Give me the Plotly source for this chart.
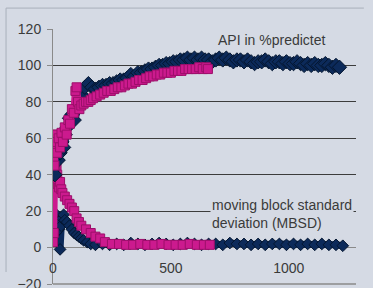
import plotly.graph_objects as go

# ---- data ----
api_navy_t = [0, 8, 15, 22, 30, 38, 45, 52, 60, 70, 80, 90, 100, 110, 120, 135, 150, 165, 180, 195,
              210, 225, 240, 255, 270, 285, 300, 315, 330, 345, 360, 375, 390, 405, 420, 435, 450, 465,
              480, 495, 510, 525, 540, 555, 570, 585, 600, 615, 630, 645, 660, 675, 690, 705, 720, 735,
              750, 765, 780, 795, 810, 825, 840, 855, 870, 885, 900, 915, 930, 945, 960, 975, 990, 1005,
              1020, 1035, 1050, 1065, 1080, 1095, 1110, 1125, 1140, 1155, 1170, 1185, 1200, 1215]
api_navy_v = [50, 40, 55, 48, 52, 58, 55, 62, 66, 71, 73, 70, 76, 80, 84, 88, 90, 88, 87, 88,
              89, 89, 90, 90, 91, 92, 92, 93, 95, 94, 96, 96, 97, 98, 98, 99, 100, 100,
              101, 101, 102, 102, 103, 103, 104, 103, 104, 103, 104, 103, 103, 102, 103, 104, 103, 104,
              103, 102, 103, 103, 102, 103, 102, 101, 102, 102, 103, 102, 101, 102, 102, 101, 102, 101,
              101, 102, 101, 100, 101, 100, 101, 100, 100, 101, 100, 99, 100, 99]

api_pink_t = [0, 6, 12, 18, 24, 30, 36, 42, 50, 58, 65, 72, 80, 88, 95, 100, 106, 112, 120, 130,
              140, 150, 160, 170, 185, 200, 215, 230, 245, 260, 275, 290, 305, 320, 335, 350, 365,
              380, 395, 410, 425, 440, 455, 470, 485, 500, 515, 530, 545, 560, 575, 590, 605, 620,
              635, 650, 657]
api_pink_v = [62, 45, 58, 52, 60, 55, 63, 58, 66, 62, 70, 68, 76, 74, 86, 88, 80, 76, 78, 79,
              80, 80, 81, 82, 83, 84, 85, 86, 86, 87, 88, 88, 89, 90, 90, 91, 92,
              92, 93, 94, 94, 95, 95, 96, 96, 96, 97, 97, 97, 98, 98, 98, 98, 99,
              98, 99, 98]

sd_pink_t = [0, 3, 6, 9, 12, 15, 18, 22, 26, 30, 35, 40, 50, 60, 70, 80, 90, 100, 110, 120,
             140, 160, 180, 200, 220, 250, 280, 310, 340, 370, 400, 430, 460, 490, 520, 550,
             580, 610, 640, 665]
sd_pink_v = [3, 8, 35, 62, 55, 45, 40, 35, 33, 36, 32, 30, 28, 26, 24, 22, 20, 16, 14, 12,
             10, 8, 6, 5, 3, 2, 2, 1.5, 1.5, 2, 1.5, 1.5, 2, 1.5, 1.5, 1.5,
             2, 1.5, 1.5, 1.5]

sd_navy_t = [0, 5, 10, 15, 20, 25, 30, 35, 40, 45, 50, 60, 70, 80, 90, 100, 110, 120, 130, 145,
             160, 180, 210, 240, 270, 300, 330, 360, 390, 420, 450, 480, 510, 540, 570, 600,
             630, 660, 690, 720, 750, 780, 810, 840, 870, 900, 930, 960, 990, 1020, 1050,
             1080, 1110, 1140, 1170, 1200, 1229]
sd_navy_v = [12, 16, 8, 18, 14, 10, -1, 12, 16, 18, 15, 14, 12, 10, 8, 7, 6, 5, 4, 3,
             2, 1.5, 2, 1.5, 2, 1.5, 2.5, 2, 1.5, 2, 2.5, 2, 1.5, 2, 2.5, 2,
             1.5, 2, 2, 1.5, 2.5, 2, 2, 1.5, 2, 1.5, 2, 2, 1.5, 2, 1.5,
             2, 1.5, 2, 1.5, 1.5, 1]

x_ticks = [0, 500, 1000]
y_ticks = [-20, 0, 20, 40, 60, 80, 100, 120]

NAVY = "#0c2a5a"
NAVY_EDGE = "#041630"
PINK = "#cc1a8e"
PINK_EDGE = "#9c0f6a"
BG = "#d5dae4"

fig = go.Figure()

fig.add_trace(go.Scatter(x=sd_navy_t, y=sd_navy_v, mode="lines+markers",
                         line=dict(color=NAVY, width=7),
                         marker=dict(symbol="diamond", size=9, color=NAVY,
                                     line=dict(color=NAVY_EDGE, width=1))))
fig.add_trace(go.Scatter(x=sd_pink_t, y=sd_pink_v, mode="lines+markers",
                         line=dict(color=PINK, width=7),
                         marker=dict(symbol="square", size=9, color=PINK,
                                     line=dict(color=PINK_EDGE, width=1))))
fig.add_trace(go.Scatter(x=api_navy_t, y=api_navy_v, mode="lines+markers",
                         line=dict(color=NAVY, width=8),
                         marker=dict(symbol="diamond", size=11, color=NAVY,
                                     line=dict(color=NAVY_EDGE, width=1))))
fig.add_trace(go.Scatter(x=api_pink_t, y=api_pink_v, mode="lines+markers",
                         line=dict(color=PINK, width=7),
                         marker=dict(symbol="square", size=9, color=PINK,
                                     line=dict(color=PINK_EDGE, width=1))))

font = dict(family="Liberation Sans, Arial, sans-serif", size=14, color="#3a3a3a")

fig.update_layout(
    width=373, height=288,
    margin=dict(l=53, r=17, t=29, b=4),
    paper_bgcolor=BG, plot_bgcolor=BG,
    showlegend=False,
    font=font,
    xaxis=dict(range=[0, 1285], tickvals=x_ticks, showgrid=False, zeroline=False,
               showline=False, ticks="", anchor="free", position=20 / 140,
               ticklabelstandoff=10, tickfont=font),
    yaxis=dict(range=[-20, 120], tickvals=y_ticks, showgrid=True, gridcolor="#3c3c3c",
               gridwidth=1.3, zeroline=True, zerolinecolor="#8a8a8a", zerolinewidth=1.3,
               showline=True, linecolor="#8a8a8a", linewidth=1, ticks="outside",
               ticklen=5, tickcolor="#8a8a8a", ticklabelstandoff=3, tickfont=font,
               ticklabeloverflow="allow", automargin=False),
    shapes=[
        dict(type="line", xref="paper", yref="paper", x0=0, x1=1, y0=0, y1=0,
             line=dict(color="#8a8a8a", width=1.3), layer="above"),
        dict(type="line", xref="paper", yref="paper", x0=-0.155, x1=1.026, y0=1.082, y1=1.082,
             line=dict(color="#aab0bb", width=1)),
        dict(type="line", xref="paper", yref="paper", x0=-0.155, x1=-0.155, y0=1.082, y1=0.047,
             line=dict(color="#aab0bb", width=1)),
    ],
    annotations=[
        dict(text="API in %predictet", xref="paper", yref="paper",
             x=(271 - 53) / 303, y=(284 - 40) / 255, xanchor="center", yanchor="middle",
             showarrow=False, font=font),
        dict(text="moving block standard<br>deviation (MBSD)", xref="paper", yref="paper",
             x=(210 - 53) / 303, y=(284 - 214) / 255, xanchor="left", yanchor="middle",
             align="left", showarrow=False, font=font, bgcolor=BG, borderpad=1),
    ],
)

fig.write_html("out.html", config={"displayModeBar": False},
               post_script="document.body.style.margin='0';document.body.style.background='" + BG + "';")
